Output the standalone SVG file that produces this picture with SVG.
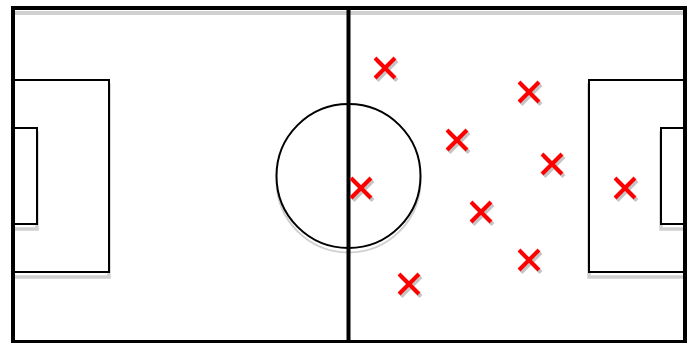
<svg xmlns="http://www.w3.org/2000/svg" width="695" height="343" viewBox="0 0 695 343">
<defs>
<style>
.ln{fill:#fff;stroke:#000;stroke-width:2}
.bd{fill:none;stroke:#000;stroke-width:4}
.sh{fill:none;stroke:#d0d0d0;stroke-width:4}
.shl{fill:none;stroke:#d0d0d0;stroke-width:3.5}
.shc{fill:none;stroke:#d0d0d0;stroke-width:2}
.x{stroke:#ff0000;stroke-width:4;fill:none}
.xs{stroke:#c4c4c4;stroke-width:4;fill:none}
</style>
<g id="cross">
<path class="xs" d="M-10,-10L10,10M10,-10L-10,10" transform="translate(2,2.5)"/>
<path class="x" d="M-10,-10L10,10M10,-10L-10,10"/>
</g>
</defs>
<rect width="695" height="343" fill="#fff"/>
<g id="pitch">
<rect class="sh" x="13" y="13" width="672" height="336"/>
<rect class="shl" x="13" y="85" width="96" height="192"/>
<rect class="shl" x="589" y="85" width="96" height="192"/>
<rect id="left-penalty" class="ln" x="13" y="80" width="96" height="192"/>
<rect id="right-penalty" class="ln" x="589" y="80" width="96" height="192"/>
<rect class="shl" x="13" y="133" width="24" height="96"/>
<rect class="shl" x="661" y="133" width="24" height="96"/>
<rect id="left-goal" class="ln" x="13" y="128" width="24" height="96"/>
<rect id="right-goal" class="ln" x="661" y="128" width="24" height="96"/>
<circle class="shc" cx="348.5" cy="180.5" r="72"/>
<circle id="centre-circle" class="ln" cx="348.5" cy="176" r="72" fill="none"/>
<line id="halfway" class="bd" x1="348.5" y1="8" x2="348.5" y2="343" stroke-width="4.5"/>
<rect id="boundary" class="bd" x="13" y="8" width="672" height="334"/>
</g>
<g id="players">
<use id="p1" href="#cross" x="385" y="68"/>
<use id="p2" href="#cross" x="529" y="92"/>
<use id="p3" href="#cross" x="457" y="140"/>
<use id="p4" href="#cross" x="552" y="164"/>
<use id="p5" href="#cross" x="361" y="188"/>
<use id="p6" href="#cross" x="625" y="188"/>
<use id="p7" href="#cross" x="481" y="212"/>
<use id="p8" href="#cross" x="529" y="260"/>
<use id="p9" href="#cross" x="409" y="284"/>
</g>
</svg>
